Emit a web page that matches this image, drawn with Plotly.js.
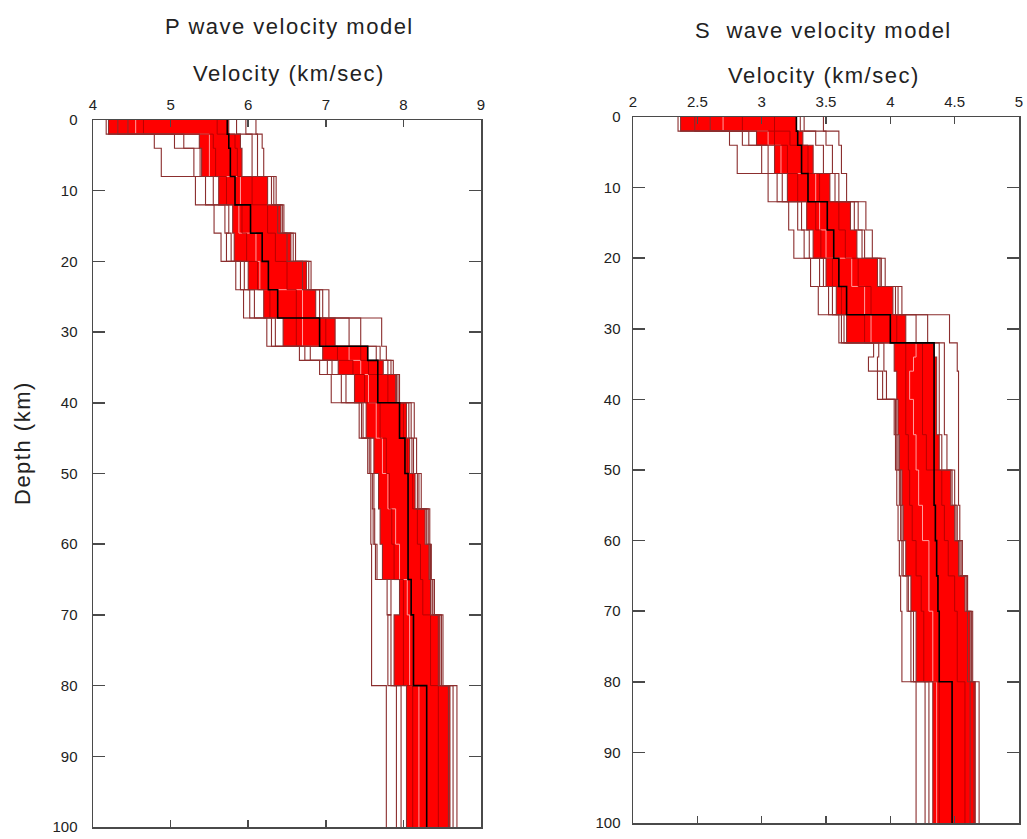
<!DOCTYPE html>
<html><head><meta charset="utf-8">
<script src="https://cdn.plot.ly/plotly-3.0.1.min.js"></script>
<style>body{margin:0;background:#fff}#chart{width:1027px;height:839px}
.annotation-text{letter-spacing:1.5px}</style>
</head><body><div id="chart"></div>
<script>
// Layer boundaries (km)
const layerTop    = [0,2,4,8,12,16,20,24,28,32,34,36,40,45,50,55,60,65,70,80];
const layerBottom = [2,4,8,12,16,20,24,28,32,34,36,40,45,50,55,60,65,70,80,100];
const depthTicks = [0,10,20,30,40,50,60,70,80,90,100];
const pTicks = [4,5,6,7,8,9];
const sTicks = [2,2.5,3,3.5,4,4.5,5];

// P wave models (km/s), one value per layer
const pMin    = [4.17,4.79,4.88,5.32,5.56,5.65,5.84,5.94,6.24,6.66,6.92,7.07,7.43,7.54,7.58,7.58,7.59,7.59,7.59,7.78];
const pLo2    = [4.45,5.05,5.38,5.45,5.70,5.78,5.95,6.08,6.35,6.80,7.02,7.20,7.48,7.58,7.62,7.63,7.66,7.79,7.84,7.91];
const pLo3    = [4.32,5.17,5.30,5.55,5.75,5.72,5.90,6.02,6.30,6.73,7.08,7.26,7.46,7.56,7.60,7.61,7.64,7.84,7.80,7.97];
const pRedLo  = [4.20,5.37,5.40,5.62,5.80,5.82,6.00,6.20,6.45,6.96,7.16,7.37,7.52,7.62,7.68,7.70,7.73,7.95,7.88,8.04];
const pIn1    = [4.65,5.55,5.58,5.72,5.92,5.98,6.12,6.28,6.62,7.15,7.35,7.50,7.70,7.78,7.82,7.85,7.88,8.00,8.00,8.12];
const pStripe = [4.55,5.50,5.50,5.90,5.88,6.10,6.15,6.70,6.70,7.30,7.45,7.55,7.65,7.73,7.80,7.90,7.95,8.05,8.08,8.20];
const pRef    = [5.73,5.75,5.77,5.83,6.03,6.18,6.26,6.38,6.92,7.54,7.67,7.67,7.95,8.02,8.06,8.06,8.06,8.10,8.13,8.30];
const pIn2    = [5.60,5.83,5.86,6.05,6.25,6.35,6.50,6.62,7.00,7.45,7.55,7.80,8.00,8.05,8.12,8.18,8.22,8.25,8.35,8.45];
const pRedHi  = [5.75,5.90,5.92,6.25,6.42,6.55,6.75,6.87,7.12,7.54,7.74,7.90,8.04,8.08,8.15,8.28,8.33,8.35,8.47,8.60];
const pHi3    = [5.85,6.12,6.12,6.33,6.38,6.50,6.70,6.92,7.30,7.70,7.84,7.91,8.07,8.11,8.18,8.32,8.35,8.37,8.45,8.64];
const pHi2    = [5.97,6.05,6.05,6.30,6.44,6.58,6.78,6.96,7.45,7.65,7.80,7.93,8.10,8.13,8.20,8.30,8.34,8.38,8.49,8.58];
const pMax    = [6.10,6.18,6.20,6.36,6.46,6.61,6.81,7.04,7.72,7.78,7.87,7.95,8.14,8.17,8.23,8.34,8.36,8.40,8.51,8.69];

// S wave models (km/s)
const sMin    = [2.35,2.75,2.81,3.05,3.21,3.25,3.38,3.44,3.60,3.87,3.83,3.90,4.03,4.04,4.05,4.06,4.07,4.08,4.09,4.20];
const sLo2    = [2.60,2.85,3.00,3.12,3.28,3.33,3.45,3.52,3.64,3.95,3.95,3.97,4.04,4.06,4.07,4.08,4.09,4.13,4.16,4.27];
const sLo3    = [2.48,2.90,3.05,3.16,3.31,3.37,3.48,3.55,3.62,3.91,3.90,3.94,4.05,4.05,4.08,4.09,4.10,4.14,4.18,4.30];
const sRedLo  = [2.37,2.96,3.10,3.20,3.35,3.40,3.50,3.58,3.66,4.03,4.03,4.05,4.06,4.07,4.09,4.10,4.12,4.16,4.20,4.33];
const sIn1    = [2.85,3.10,3.20,3.28,3.42,3.46,3.55,3.62,3.80,4.12,4.12,4.12,4.12,4.14,4.15,4.17,4.20,4.24,4.26,4.38];
const sStripe = [2.70,3.05,3.15,3.42,3.45,3.50,3.70,3.80,3.85,4.20,4.18,4.15,4.18,4.20,4.22,4.25,4.30,4.30,4.33,4.36];
const sRef    = [3.27,3.28,3.31,3.36,3.51,3.56,3.60,3.66,4.00,4.34,4.34,4.34,4.34,4.34,4.34,4.35,4.36,4.37,4.38,4.48];
const sIn2    = [3.10,3.22,3.36,3.45,3.60,3.65,3.75,3.85,4.05,4.25,4.25,4.25,4.25,4.28,4.40,4.42,4.45,4.50,4.52,4.58];
const sRedHi  = [3.27,3.32,3.40,3.53,3.69,3.74,3.90,4.02,4.12,4.34,4.36,4.36,4.36,4.38,4.47,4.50,4.53,4.58,4.62,4.66];
const sHi3    = [3.30,3.42,3.48,3.57,3.72,3.78,3.92,4.04,4.20,4.38,4.38,4.38,4.38,4.40,4.50,4.52,4.55,4.60,4.60,4.62];
const sHi2    = [3.33,3.50,3.55,3.60,3.75,3.80,3.93,4.06,4.29,4.42,4.42,4.42,4.42,4.44,4.48,4.51,4.54,4.59,4.63,4.65];
const sMax    = [3.48,3.60,3.62,3.66,3.81,3.86,3.96,4.09,4.46,4.52,4.52,4.53,4.53,4.53,4.53,4.54,4.56,4.60,4.64,4.69];

function step(v){
  const x=[], y=[];
  for(let i=0;i<v.length;i++){ x.push(v[i],v[i]); y.push(layerTop[i],layerBottom[i]); }
  return {x,y};
}
function band(lo,hi,xa,ya){
  const a=step(lo), b=step(hi);
  return {type:'scatter',mode:'lines',x:a.x.concat(b.x.slice().reverse()),y:a.y.concat(b.y.slice().reverse()),
    fill:'toself',fillcolor:'#ff0000',line:{width:0},xaxis:xa,yaxis:ya,hoverinfo:'skip'};
}
function line(v,color,w,xa,ya){
  const s=step(v);
  return {type:'scatter',mode:'lines',x:s.x,y:s.y,line:{color:color,width:w},xaxis:xa,yaxis:ya,hoverinfo:'skip'};
}
const OUT='#8b2e2e', INN='#b80000', LIGHT='#ff9c9c';
const traces=[];
function panel(m,xa,ya){
  traces.push(band(m.rlo,m.rhi,xa,ya));
  traces.push(line(m.stripe,LIGHT,1,xa,ya));
  traces.push(line(m.in1,INN,1,xa,ya));
  traces.push(line(m.in2,INN,1,xa,ya));
  [m.lo,m.lo2,m.lo3,m.rlo,m.rhi,m.hi3,m.hi2,m.hi].forEach(v=>traces.push(line(v,OUT,1.1,xa,ya)));
  traces.push(line(m.ref,'#000000',1.6,xa,ya));
}
panel({lo:pMin,lo2:pLo2,lo3:pLo3,rlo:pRedLo,in1:pIn1,stripe:pStripe,ref:pRef,in2:pIn2,rhi:pRedHi,hi3:pHi3,hi2:pHi2,hi:pMax},'x','y');
panel({lo:sMin,lo2:sLo2,lo3:sLo3,rlo:sRedLo,in1:sIn1,stripe:sStripe,ref:sRef,in2:sIn2,rhi:sRedHi,hi3:sHi3,hi2:sHi2,hi:sMax},'x2','y2');

const FONT='Liberation Sans, Arial, sans-serif';
const axCommon={showgrid:false,zeroline:false,showline:true,linecolor:'#4a4a4a',linewidth:1.5,
  ticks:'inside',mirror:'ticks',tickcolor:'#4a4a4a',tickwidth:1.5,tickfont:{family:FONT,size:15,color:'#222'}};
function ann(text,x,y,size,angle){
  return {text:text,x:x/1027,y:1-y/839,xref:'paper',yref:'paper',xanchor:'center',yanchor:'middle',
    showarrow:false,textangle:angle||0,font:{family:FONT,size:size,color:'#222'}};
}
const layout={
  width:1027,height:839,margin:{l:0,r:0,t:0,b:0},showlegend:false,
  paper_bgcolor:'#fff',plot_bgcolor:'#fff',
  xaxis:Object.assign({},axCommon,{domain:[93/1027,481/1027],range:[4,9],side:'top',tickvals:pTicks,ticklen:7,anchor:'y',ticklabelstandoff:3}),
  yaxis:Object.assign({},axCommon,{domain:[1-827/839,1-120/839],range:[100,0],tickvals:depthTicks,ticklen:12,anchor:'x',ticklabelstandoff:11}),
  xaxis2:Object.assign({},axCommon,{domain:[633/1027,1019/1027],range:[2,5],side:'top',tickvals:sTicks,ticktext:sTicks.map(String),ticklen:7,anchor:'y2',ticklabelstandoff:3}),
  yaxis2:Object.assign({},axCommon,{domain:[1-823/839,1-117/839],range:[100,0],tickvals:depthTicks,ticklen:12,anchor:'x2',ticklabelstandoff:8}),
  annotations:[
    ann('P wave velocity model',289,27,22),
    ann('Velocity (km/sec)',289,73,22),
    ann('S  wave velocity model',823,31,22),
    ann('Velocity (km/sec)',824,75,22),
    ann('Depth (km)',22,443,22,-90)
  ]
};
Plotly.newPlot('chart',traces,layout,{staticPlot:true});
</script></body></html>
